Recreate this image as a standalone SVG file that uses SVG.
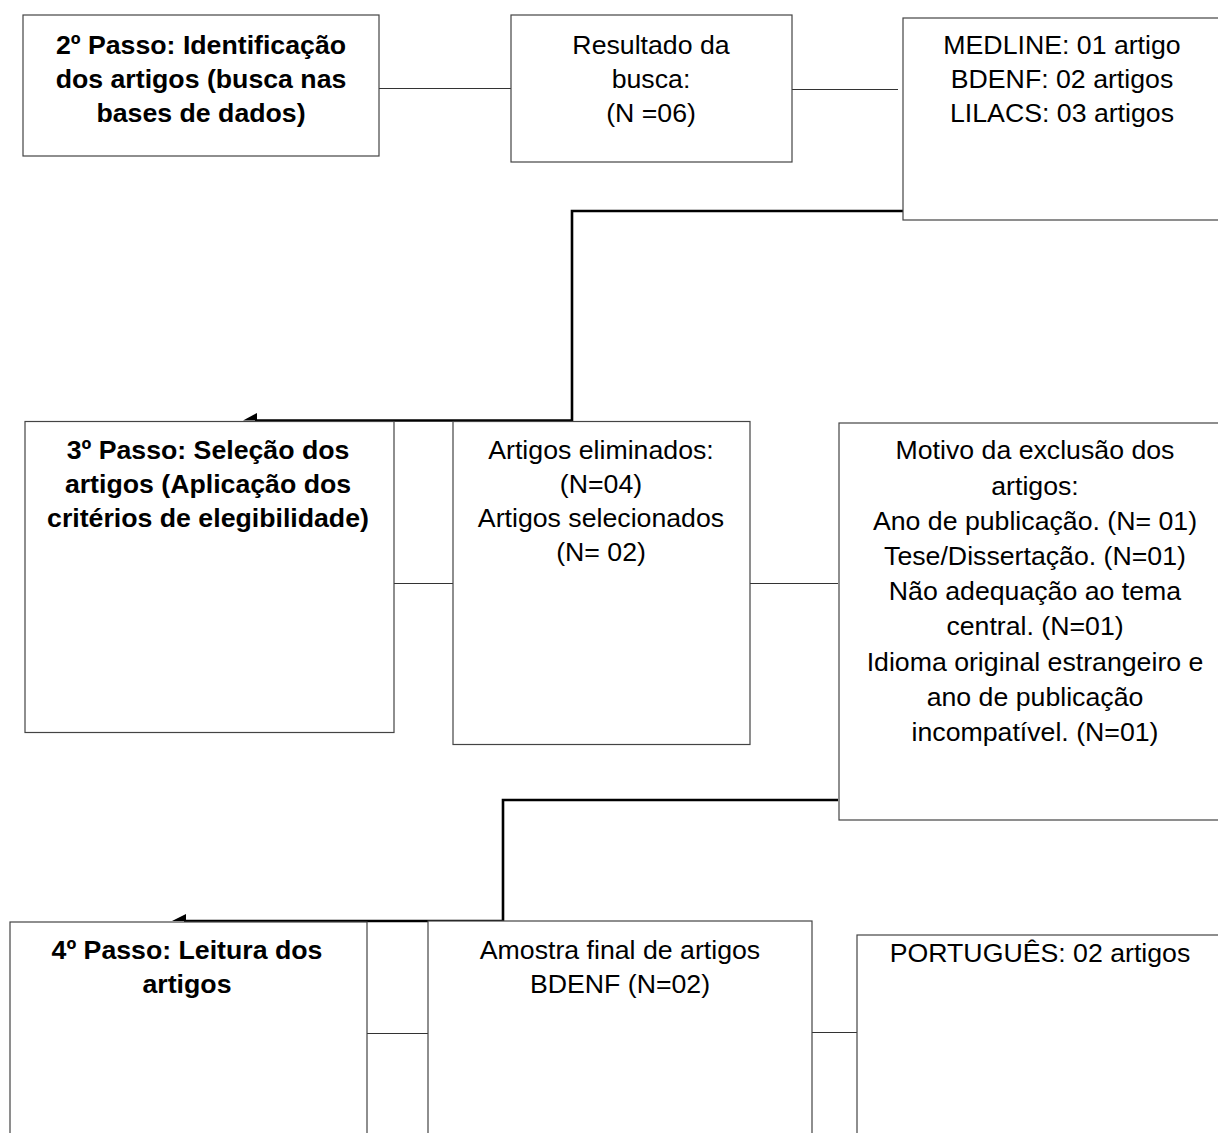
<svg xmlns="http://www.w3.org/2000/svg" width="1218" height="1133" viewBox="0 0 1218 1133">
<style>
.box{fill:#fff;stroke:#444;stroke-width:1.2}
.t{font-family:"Liberation Sans",Arial,sans-serif;font-size:26.7px;fill:#000;text-anchor:middle}
.b{font-weight:bold}
.thin{stroke:#333;stroke-width:1.2;fill:none}
.thick{stroke:#000;stroke-width:2.6;fill:none}
</style>
<rect width="1218" height="1133" fill="#fff"/>
<g id="connectors">
<line class="thin" x1="379" y1="88.5" x2="511" y2="88.5"/>
<line class="thin" x1="792" y1="89.5" x2="898" y2="89.5"/>
<polyline class="thick" points="903,211 572,211 572,420.5 255,420.5"/>
<polygon points="243,420.5 257,413 257,420.5" fill="#000"/>
<line class="thin" x1="394" y1="583.5" x2="453" y2="583.5"/>
<line class="thin" x1="750" y1="583.5" x2="838" y2="583.5"/>
<polyline class="thick" points="838,800 503,800 503,921 184,921"/>
<polygon points="172,921 186,914 186,921" fill="#000"/>
<line class="thin" x1="367" y1="1033.5" x2="428" y2="1033.5"/>
<line class="thin" x1="812" y1="1032.5" x2="858" y2="1032.5"/>
</g>
<g id="n1"><rect class="box" x="23" y="15" width="356" height="141"/>
<text class="t b" x="201" y="53.5">2º Passo: Identificação</text>
<text class="t b" x="201" y="87.5">dos artigos (busca nas</text>
<text class="t b" x="201" y="121.5">bases de dados)</text></g>
<g id="n2"><rect class="box" x="511" y="15" width="281" height="147"/>
<text class="t" x="651" y="54">Resultado da</text>
<text class="t" x="651" y="88">busca:</text>
<text class="t" x="651" y="122">(N =06)</text></g>
<g id="n3"><rect class="box" x="903" y="18" width="330" height="202"/>
<text class="t" x="1062" y="54">MEDLINE: 01 artigo</text>
<text class="t" x="1062" y="88">BDENF: 02 artigos</text>
<text class="t" x="1062" y="122">LILACS: 03 artigos</text></g>
<g id="n4"><rect class="box" x="25" y="421.5" width="369" height="311"/>
<text class="t b" x="208" y="459">3º Passo: Seleção dos</text>
<text class="t b" x="208" y="493">artigos (Aplicação dos</text>
<text class="t b" x="208" y="527">critérios de elegibilidade)</text></g>
<g id="n5"><rect class="box" x="453" y="421.5" width="297" height="323"/>
<text class="t" x="601" y="459">Artigos eliminados:</text>
<text class="t" x="601" y="493">(N=04)</text>
<text class="t" x="601" y="527">Artigos selecionados</text>
<text class="t" x="601" y="561">(N= 02)</text></g>
<g id="n6"><rect class="box" x="839" y="423" width="390" height="397"/>
<text class="t" x="1035" y="459">Motivo da exclusão dos</text>
<text class="t" x="1035" y="495">artigos:</text>
<text class="t" x="1035" y="530">Ano de publicação. (N= 01)</text>
<text class="t" x="1035" y="565">Tese/Dissertação. (N=01)</text>
<text class="t" x="1035" y="600">Não adequação ao tema</text>
<text class="t" x="1035" y="635">central. (N=01)</text>
<text class="t" x="1035" y="671">Idioma original estrangeiro e</text>
<text class="t" x="1035" y="706">ano de publicação</text>
<text class="t" x="1035" y="741">incompatível. (N=01)</text></g>
<g id="n7"><rect class="box" x="10" y="922" width="357" height="230"/>
<text class="t b" x="187" y="959">4º Passo: Leitura dos</text>
<text class="t b" x="187" y="993">artigos</text></g>
<g id="n8"><rect class="box" x="428" y="921" width="384" height="230"/>
<text class="t" x="620" y="959">Amostra final de artigos</text>
<text class="t" x="620" y="993">BDENF (N=02)</text></g>
<g id="n9"><rect class="box" x="857" y="935" width="380" height="220"/>
<text class="t" x="1040" y="962">PORTUGUÊS: 02 artigos</text></g>
</svg>
